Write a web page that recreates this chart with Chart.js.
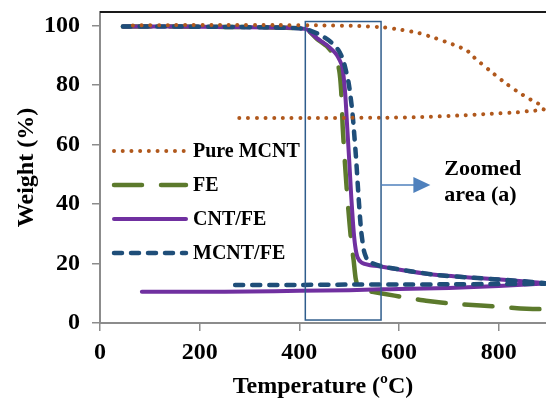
<!DOCTYPE html>
<html>
<head>
<meta charset="utf-8">
<script src="https://cdn.jsdelivr.net/npm/chart.js@4.4.1/dist/chart.umd.min.js"></script>
<style>
  html, body { margin: 0; padding: 0; background: #fff; }
  #wrap { width: 546px; height: 401px; }
</style>
</head>
<body>
<div id="wrap"><canvas id="graficoTGA" width="546" height="401"></canvas></div>
<script>
// TGA curves: temperature (ºC) / weight (%)
const pureMcntTemp = [66, 150, 250, 350, 450, 520, 570, 605, 640, 673, 705, 722, 737, 749, 762, 789, 816, 843, 872, 889, 890, 860, 838, 784, 717, 646, 576, 450, 350, 265];
const pureMcntWeight = [100, 100.1, 100.1, 100.1, 100, 99.8, 99.3, 98.5, 97.4, 95.7, 93.8, 92.7, 91.5, 89.5, 87.6, 83.9, 80.3, 77.2, 74.3, 72.9, 71.7, 71.2, 70.8, 70.3, 69.7, 69.2, 69.0, 68.9, 68.9, 68.9];

const feTemp = [46, 150, 250, 350, 400, 415, 435, 455, 472, 480, 484, 487, 491, 496, 501, 505, 509, 513, 518, 530, 563, 619, 654, 714, 764, 810, 844, 893];
const feWeight = [99.6, 99.6, 99.5, 99.3, 99.0, 98.7, 95.5, 93.0, 89.6, 85.0, 78.0, 66.0, 55.0, 43.0, 33.0, 26.0, 21.0, 15.0, 12.2, 11.0, 10.0, 8.4, 7.5, 6.4, 5.9, 5.3, 4.9, 4.6];

const cntFeTemp = [46, 150, 250, 350, 400, 415, 435, 455, 475, 486, 492, 496, 500, 504, 508, 512, 517, 525, 540, 566, 620, 677, 750, 810, 860, 893, 893, 800, 700, 600, 563, 500, 400, 300, 200, 84];
const cntFeWeight = [99.6, 99.6, 99.5, 99.3, 99.0, 98.7, 95.7, 93.4, 90.1, 86.2, 77.2, 66.0, 55.0, 43.0, 33.0, 26.0, 22.0, 20.3, 19.5, 18.9, 17.4, 16.1, 15.2, 14.5, 13.9, 13.4, 13.3, 12.4, 11.8, 11.4, 11.3, 11.0, 10.8, 10.6, 10.5, 10.5];

const mcntFeTemp = [46, 150, 250, 350, 400, 415, 442, 462, 478, 488, 499, 506, 509, 514, 519, 524, 530, 537, 545, 566, 620, 677, 750, 810, 860, 893, 893, 800, 700, 600, 500, 400, 261];
const mcntFeWeight = [99.6, 99.6, 99.5, 99.3, 99.0, 98.7, 96.8, 94.6, 91.8, 88.4, 80.6, 71.6, 66.0, 55.0, 42.0, 31.0, 24.0, 21.0, 20.2, 19.0, 17.5, 16.1, 15.2, 14.5, 13.9, 13.4, 13.2, 13.1, 13.0, 12.9, 12.9, 12.8, 12.8];

const seriesNames = ['Pure MCNT', 'FE', 'CNT/FE', 'MCNT/FE'];

// zoomed area rectangle (data units) and its label
const zoomBoxX = [412, 564];
const zoomBoxY = [1, 101.3];
const zoomArrowY = 46.4;
const zoomArrowTipX = 663;
const zoomLabel = ['Zoomed', 'area (a)'];
const zoomLabelX = 691;
const zoomLabelY = [49.7, 41.1];

const toPoints = (xs, ys) => xs.map((x, i) => ({ x: x, y: ys[i] }));
const serif = 'Liberation Serif, Times New Roman, serif';

const datasets = [
  {
    label: seriesNames[0],
    data: toPoints(pureMcntTemp, pureMcntWeight),
    borderColor: '#b0581c',
    borderWidth: 4,
    borderDash: [0.01, 8.7],
    borderCapStyle: 'round',
    order: 0
  },
  {
    label: seriesNames[1],
    data: toPoints(feTemp, feWeight),
    borderColor: '#5c7a2c',
    borderWidth: 4.5,
    borderDash: [28, 19],
    borderCapStyle: 'round',
    order: 3
  },
  {
    label: seriesNames[2],
    data: toPoints(cntFeTemp, cntFeWeight),
    borderColor: '#7030a0',
    borderWidth: 4,
    borderDash: [],
    borderCapStyle: 'round',
    order: 2
  },
  {
    label: seriesNames[3],
    data: toPoints(mcntFeTemp, mcntFeWeight),
    borderColor: '#1f4e79',
    borderWidth: 4.5,
    borderDash: [8, 9],
    borderCapStyle: 'round',
    order: 1
  }
];
datasets.forEach(ds => {
  ds.showLine = true;
  ds.pointRadius = 0;
  ds.tension = 0.2;
  ds.fill = false;
});

// legend inside the plot, box + arrow + label, black top edge
const extras = {
  id: 'extras',
  afterDatasetsDraw(chart) {
    const { ctx, chartArea, scales } = chart;
    const xs = scales.x, ys = scales.y;
    ctx.save();

    // top border
    ctx.strokeStyle = '#1a1a1a';
    ctx.lineWidth = 2;
    ctx.beginPath();
    ctx.moveTo(chartArea.left, chartArea.top);
    ctx.lineTo(chartArea.right, chartArea.top);
    ctx.stroke();

    // zoomed area box
    const bx0 = xs.getPixelForValue(zoomBoxX[0]);
    const bx1 = xs.getPixelForValue(zoomBoxX[1]);
    const by0 = ys.getPixelForValue(zoomBoxY[1]);
    const by1 = ys.getPixelForValue(zoomBoxY[0]);
    ctx.strokeStyle = '#2f5d8c';
    ctx.lineWidth = 1.5;
    ctx.setLineDash([]);
    ctx.strokeRect(bx0, by0, bx1 - bx0, by1 - by0);

    // arrow
    const ay = ys.getPixelForValue(zoomArrowY);
    const tip = xs.getPixelForValue(zoomArrowTipX);
    ctx.strokeStyle = '#4f81bd';
    ctx.fillStyle = '#4f81bd';
    ctx.lineWidth = 1.5;
    ctx.beginPath();
    ctx.moveTo(bx1, ay);
    ctx.lineTo(tip - 14, ay);
    ctx.stroke();
    ctx.beginPath();
    ctx.moveTo(tip, ay);
    ctx.lineTo(tip - 17, ay - 8);
    ctx.lineTo(tip - 17, ay + 8);
    ctx.closePath();
    ctx.fill();

    // label
    ctx.fillStyle = '#000';
    ctx.font = 'bold 22px ' + serif;
    ctx.textAlign = 'left';
    ctx.textBaseline = 'alphabetic';
    zoomLabel.forEach((t, i) => {
      ctx.fillText(t, xs.getPixelForValue(zoomLabelX), ys.getPixelForValue(zoomLabelY[i]));
    });

    // legend
    ctx.font = 'bold 20px ' + serif;
    ctx.textBaseline = 'middle';
    seriesNames.forEach((name, row) => {
      const ds = chart.data.datasets[row];
      const y = chartArea.top + 139 + row * 34;
      const x0 = chartArea.left + 14;
      const x1 = chartArea.left + 86;
      ctx.strokeStyle = ds.borderColor;
      ctx.lineWidth = ds.borderWidth;
      ctx.lineCap = ds.borderCapStyle;
      ctx.setLineDash(ds.borderDash);
      ctx.beginPath();
      ctx.moveTo(x0, y);
      ctx.lineTo(x1, y);
      ctx.stroke();
      ctx.setLineDash([]);
      ctx.fillStyle = '#000';
      ctx.fillText(name, chartArea.left + 93, y + 1);
    });
    ctx.restore();
  }
};

const tickFont = { family: serif, size: 24, weight: 'bold' };
const titleFont = { family: serif, size: 24, weight: 'bold' };

const ctx = document.getElementById('graficoTGA').getContext('2d');
const myChart = new Chart(ctx, {
  type: 'scatter',
  data: { datasets: datasets },
  options: {
    responsive: false,
    animation: false,
    events: [],
    layout: { padding: { top: 12, right: 0, left: 0, bottom: 0 } },
    plugins: {
      legend: { display: false },
      tooltip: { enabled: false }
    },
    scales: {
      x: {
        type: 'linear',
        min: 0,
        max: 895,
        afterFit: (scale) => { scale.height = 78; scale.paddingLeft = 0; scale.paddingRight = 0; },
        border: { display: true, color: '#8c8c8c', width: 2 },
        grid: { drawOnChartArea: false, drawTicks: true, tickLength: 8, color: '#8c8c8c', lineWidth: 1.5 },
        ticks: { stepSize: 200, includeBounds: false, autoSkip: false, maxRotation: 0, padding: 7, color: '#000', font: tickFont },
        title: { display: true, text: 'Temperature (ºC)', color: '#000', font: titleFont, padding: { top: 0, bottom: 0 } }
      },
      y: {
        type: 'linear',
        min: 0,
        max: 104.5,
        afterFit: (scale) => { scale.width = 100; scale.paddingTop = 0; scale.paddingBottom = 0; },
        border: { display: true, color: '#8c8c8c', width: 2 },
        grid: { drawOnChartArea: false, drawTicks: true, tickLength: 8, color: '#8c8c8c', lineWidth: 1.5 },
        ticks: { stepSize: 20, includeBounds: false, padding: 12, color: '#000', font: tickFont },
        title: { display: true, text: 'Weight (%)', color: '#000', font: titleFont, padding: { top: 12, bottom: 0 } }
      }
    }
  },
  plugins: [extras]
});
</script>
</body>
</html>
